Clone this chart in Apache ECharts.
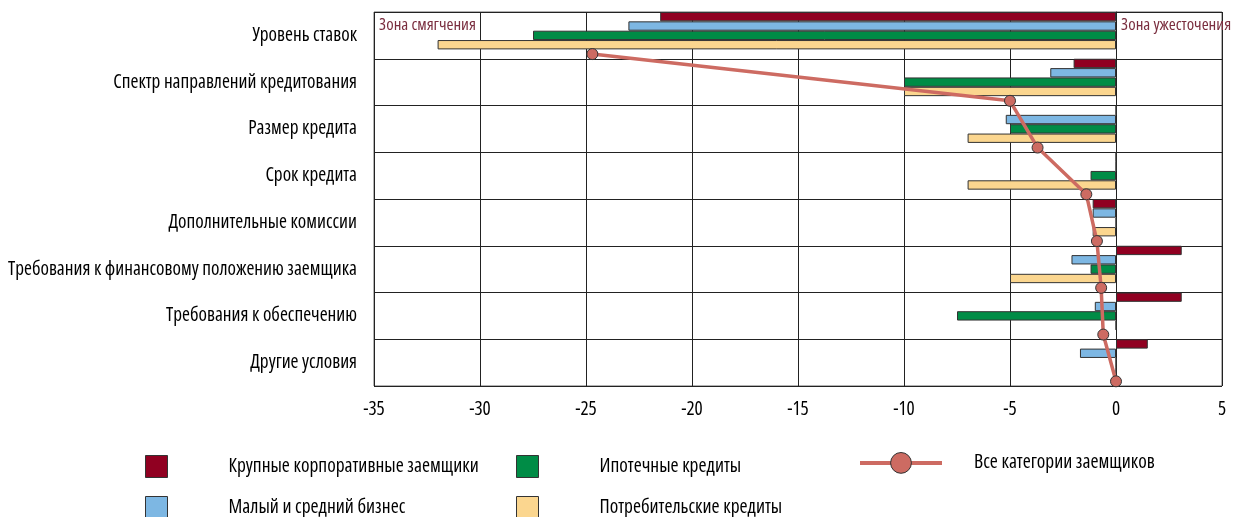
<!DOCTYPE html>
<html>
<head>
<meta charset="utf-8">
<script src="https://cdn.jsdelivr.net/npm/echarts@6/dist/echarts.min.js"></script>
<style>
html,body{margin:0;padding:0;background:#fff;}
#c{width:1236px;height:517px;}
</style>
</head>
<body>
<div id="c"></div>
<script>
const categories = [
  'Уровень ставок',
  'Спектр направлений кредитования',
  'Размер кредита',
  'Срок кредита',
  'Дополнительные комиссии',
  'Требования к финансовому положению заемщика',
  'Требования к обеспечению',
  'Другие условия'
];
const largeCorp = [-21.5, -2, 0, 0, -1.1, 3.1, 3.1, 1.5];
const smeBusiness = [-23, -3.1, -5.2, 0, -1.1, -2.1, -1, -1.7];
const mortgage = [-27.5, -10, -5, -1.2, 0, -1.2, -7.5, 0];
const consumer = [-32, -10, -7, -7, -1.1, -5, 0, 0];
const allBorrowers = [-24.7, -5, -3.7, -1.4, -0.9, -0.7, -0.6, 0];
const xTicks = { min: -35, max: 5, interval: 5 };
const seriesNames = ['Крупные корпоративные заемщики', 'Малый и средний бизнес', 'Ипотечные кредиты', 'Потребительские кредиты', 'Все категории заемщиков'];
const zoneLabels = ['Зона смягчения', 'Зона ужесточения'];

// ---- font selection: pick a narrow face that best matches the reference proportions ----
const ctx = document.createElement('canvas').getContext('2d');
const candidates = [
  { w: '', f: 'Liberation Sans Narrow' },
  { w: '', f: 'Roboto Condensed' },
  { w: '', f: 'Arial Narrow' },
  { w: '', f: 'Open Sans Condensed' },
  { w: '', f: 'Noto Sans Condensed' },
  { w: 'condensed', f: 'Roboto' },
  { w: 'condensed', f: 'Noto Sans' },
  { w: 'condensed', f: 'Open Sans' },
  { w: '', f: 'DejaVu Sans Condensed' },
  { w: '', f: 'Liberation Sans' }
];
function measure(font, s) { ctx.font = font; return ctx.measureText(s); }
const probe = 'Требования abcXYZ 0123';
let best = null;
candidates.forEach(c => {
  const fam = "'" + c.f + "'";
  const a1 = measure((c.w + ' 100px ' + fam + ', monospace').trim(), probe).width;
  const a2 = measure((c.w + ' 100px monospace').trim(), probe).width;
  const b1 = measure((c.w + ' 100px ' + fam + ', serif').trim(), probe).width;
  const b2 = measure((c.w + ' 100px serif').trim(), probe).width;
  if (a1 === a2 && b1 === b2) return;
  if (c.w) {
    const plain = measure('100px ' + fam, probe).width;
    const cond = measure(c.w + ' 100px ' + fam, probe).width;
    if (Math.abs(plain - cond) < 0.5) return;
  }
  const full = (c.w + ' 100px ' + fam).trim();
  const w100 = measure(full, categories[5]).width;
  const cap = measure(full, 'Т').actualBoundingBoxAscent || 72;
  const score = Math.abs(w100 * 14 / cap - 349);
  if (!best || score < best.score) best = { c: c, score: score, w100: w100 };
});
const FAMILY = best ? "'" + best.c.f + "', 'DejaVu Sans Condensed', sans-serif" : "'DejaVu Sans Condensed', sans-serif";
const STRETCH = best ? best.c.w : '';
function fitSize(text, target) {
  const w = measure((STRETCH + " 100px " + FAMILY).trim(), text).width;
  return Math.round(100 * target / w * 10) / 10;
}
const labelSize = fitSize(categories[5], 349);
const legendSize = fitSize(seriesNames[0], 250);
const zoneSize = fitSize(zoneLabels[0], 97);
const tx = (size, color) => ({ fontFamily: FAMILY, fontWeight: STRETCH || 'normal', fontSize: size, color: color || '#000' });

const colors = ['#900021', '#7DB7E3', '#008C46', '#FBD68F', '#CD6B62'];
const barBorder = { borderColor: '#333', borderWidth: 1 };

const chart = echarts.init(document.getElementById('c'), null, { renderer: 'canvas' });

function barSeries(name, data, color) {
  return {
    name: name, type: 'bar', data: data,
    yAxisIndex: 0, xAxisIndex: 0,
    barGap: '0%', barCategoryGap: '0%',
    itemStyle: Object.assign({ color: color }, barBorder),
    emphasis: { disabled: true }, silent: true, z: 3
  };
}
function legendItem(name, left, top, isLine) {
  const lg = {
    data: [name], left: left, top: top, orient: 'horizontal',
    itemWidth: isLine ? 82 : 22, itemHeight: isLine ? 26 : 22,
    itemStyle: { borderColor: '#333', borderWidth: 1 },
    textStyle: Object.assign(tx(legendSize), { padding: isLine ? [7, 0, 0, 27] : [0, 0, 0, 56] }),
    selectedMode: false, padding: 0
  };
  if (isLine) { lg.lineStyle = { width: 4 }; } else { lg.icon = 'rect'; }
  return lg;
}

const option = {
  animation: false,
  textStyle: { fontFamily: FAMILY },
  grid: { left: 374, right: 14, top: 12, bottom: 131, show: true, borderColor: '#666', borderWidth: 1, containLabel: false, outerBoundsMode: 'none' },
  xAxis: {
    type: 'value', min: xTicks.min, max: xTicks.max, interval: xTicks.interval,
    axisLine: { show: false }, axisTick: { show: false },
    axisLabel: Object.assign(tx(labelSize), { margin: 14 }),
    splitLine: { show: true, lineStyle: { color: '#222', width: 1 } }
  },
  yAxis: [{
    type: 'category', data: categories, inverse: true,
    axisLine: { show: true, lineStyle: { color: '#222' } }, axisTick: { show: false },
    axisLabel: Object.assign(tx(labelSize), { margin: 17 }),
    splitLine: { show: true, lineStyle: { color: '#222', width: 1 } }
  }, {
    type: 'value', min: 0, max: categories.length, inverse: true, show: false
  }],
  legend: [
    legendItem(seriesNames[0], 145, 455, false),
    legendItem(seriesNames[1], 145, 496, false),
    legendItem(seriesNames[2], 516, 455, false),
    legendItem(seriesNames[3], 516, 496, false),
    legendItem(seriesNames[4], 858, 452, true)
  ],
  graphic: [{
    type: 'text', x: 379, y: 25, z: 10,
    style: { text: zoneLabels[0], fill: '#7A2E3F', fontFamily: FAMILY, fontWeight: STRETCH || 'normal', fontSize: zoneSize, verticalAlign: 'middle' }
  }, {
    type: 'text', x: 1121, y: 25, z: 10,
    style: { text: zoneLabels[1], fill: '#7A2E3F', fontFamily: FAMILY, fontWeight: STRETCH || 'normal', fontSize: zoneSize, verticalAlign: 'middle' }
  }],
  series: [
    barSeries(seriesNames[0], largeCorp, colors[0]),
    barSeries(seriesNames[1], smeBusiness, colors[1]),
    barSeries(seriesNames[2], mortgage, colors[2]),
    barSeries(seriesNames[3], consumer, colors[3]),
    { name: '_slot', type: 'bar', data: categories.map(() => null), barGap: '0%', barCategoryGap: '0%', silent: true },
    {
      name: seriesNames[4], type: 'line', yAxisIndex: 1,
      data: allBorrowers.map((v, i) => [v, i + 0.9]),
      lineStyle: { color: colors[4], width: 3.5 },
      itemStyle: { color: colors[4], borderColor: '#333', borderWidth: 1 },
      symbol: 'circle', symbolSize: 11, showSymbol: true,
      silent: true, z: 5
    }
  ]
};
chart.setOption(option);
</script>
</body>
</html>
